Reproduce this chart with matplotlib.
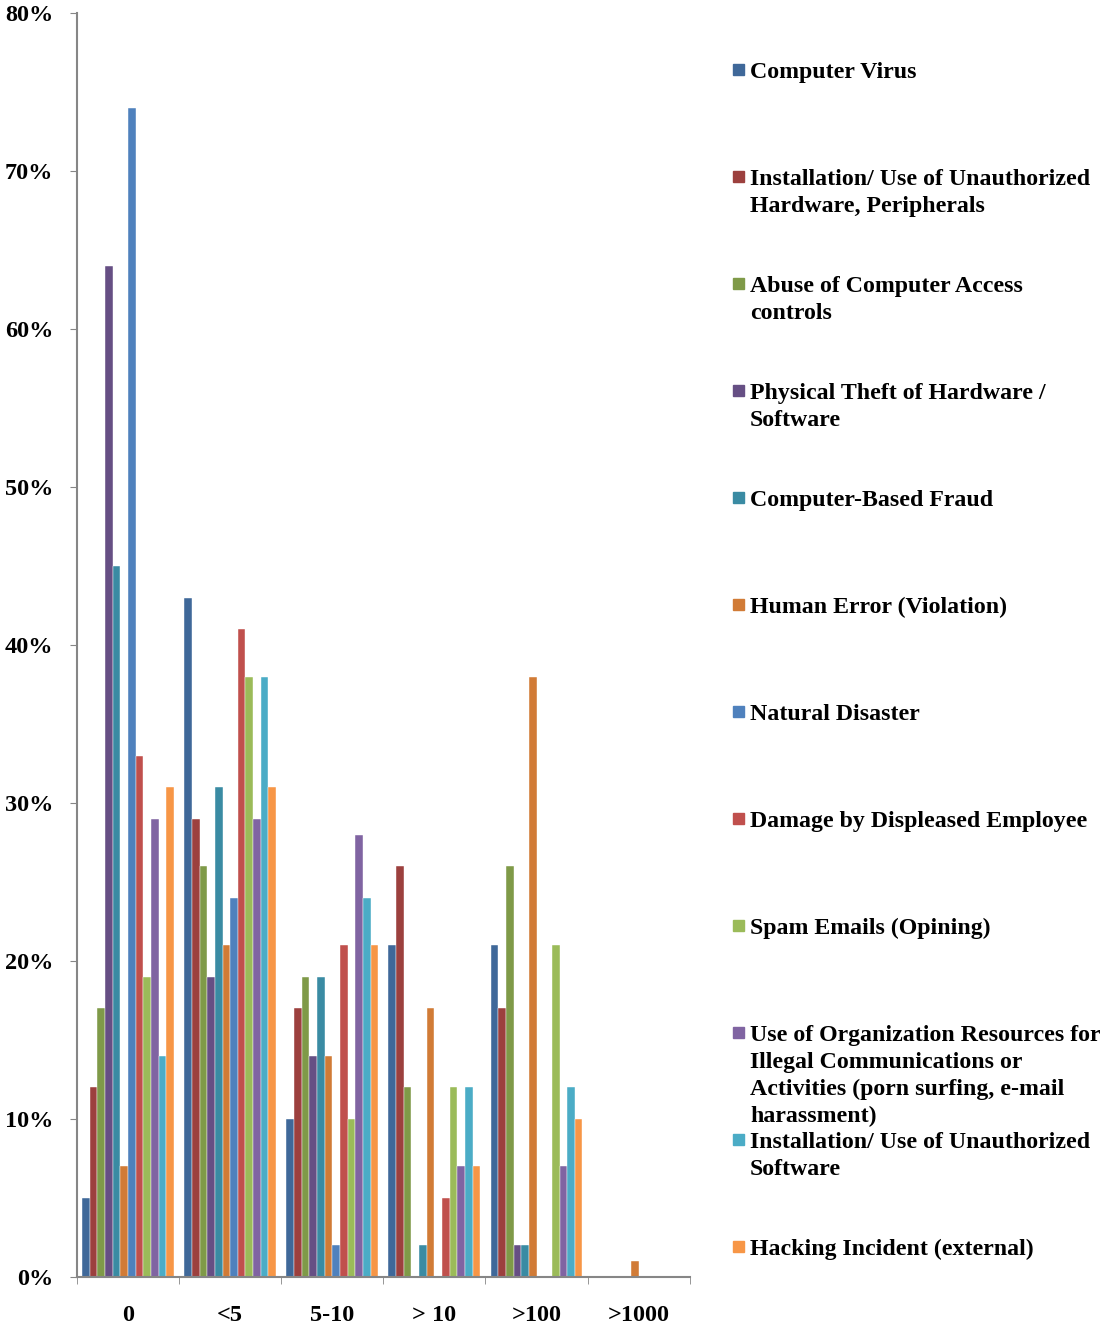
import numpy as np
import matplotlib.pyplot as plt
from matplotlib.patches import Rectangle

# loss categories (x axis)
categories = ['0', '<5', '5-10', '> 10', '>100', '>1000']

# incident types and their share (%) in each loss category
series = [
    'Computer Virus',
    'Installation/ Use of Unauthorized\nHardware, Peripherals',
    'Abuse of Computer Access\ncontrols',
    'Physical Theft of Hardware /\nSoftware',
    'Computer-Based Fraud',
    'Human Error (Violation)',
    'Natural Disaster',
    'Damage by Displeased Employee',
    'Spam Emails (Opining)',
    'Use of Organization Resources for\nIllegal Communications or\nActivities (porn surfing, e-mail\nharassment)',
    'Installation/ Use of Unauthorized\nSoftware',
    'Hacking Incident (external)',
]
computer_virus = [5, 43, 10, 21, 21, 0]
unauth_hardware = [12, 29, 17, 26, 17, 0]
access_abuse = [17, 26, 19, 12, 26, 0]
physical_theft = [64, 19, 14, 0, 2, 0]
fraud = [45, 31, 19, 2, 2, 0]
human_error = [7, 21, 14, 17, 38, 1]
natural_disaster = [74, 24, 2, 0, 0, 0]
employee_damage = [33, 41, 21, 5, 0, 0]
spam = [19, 38, 10, 12, 21, 0]
illegal_use = [29, 29, 28, 7, 7, 0]
unauth_software = [14, 38, 24, 12, 12, 0]
hacking = [31, 31, 21, 7, 10, 0]

values = [computer_virus, unauth_hardware, access_abuse, physical_theft, fraud,
          human_error, natural_disaster, employee_damage, spam, illegal_use,
          unauth_software, hacking]

colors = ['#3F6899', '#9C403E', '#7F9A48', '#664F84', '#3A8BA3', '#D17B36',
          '#4F81BD', '#C0504D', '#9BBB59', '#8064A2', '#4BACC6', '#F79646']

plt.rcParams['font.family'] = 'Liberation Serif'
plt.rcParams['font.weight'] = 'bold'

fig = plt.figure(figsize=(11, 13.28), dpi=100)
ax = fig.add_axes([0.07, 0.0384, 0.557, 0.9518])

x = np.arange(len(categories))
n = len(values)
w = 0.9 / n
for i, (v, c) in enumerate(zip(values, colors)):
    ax.bar(x - 0.45 + w * (i + 0.5), np.array(v) / 100, width=w, color=c,
           edgecolor='white', linewidth=0.3)

ax.set_xlim(-0.5, len(categories) - 0.5)
ax.set_ylim(0, 0.8)
ax.set_yticks(np.arange(0, 0.81, 0.1))
ax.set_yticklabels([f'{int(round(t * 100))}%' for t in np.arange(0, 0.81, 0.1)],
                   fontsize=17.5, fontweight='bold')
ax.set_xticks(x)
ax.set_xticklabels(categories, fontsize=17.5, fontweight='bold')
ax.set_xticks(np.arange(-0.5, len(categories)), minor=True)
ax.tick_params(axis='x', which='major', length=0, pad=20)
ax.tick_params(axis='x', which='minor', length=5, color='#868686')
ax.tick_params(axis='y', length=5, color='#868686', pad=12)

for s in ['top', 'right']:
    ax.spines[s].set_visible(False)
for s in ['left', 'bottom']:
    ax.spines[s].set_color('#868686')
    ax.spines[s].set_linewidth(1.5)

# legend drawn by hand, one entry every 107 px
W, H = 1100, 1328
for i, (name, c) in enumerate(zip(series, colors)):
    ytop = 70 + 107 * i
    fig.patches.append(Rectangle((733 / W, 1 - (ytop + 5) / H), 11 / W, 11 / H,
                                 transform=fig.transFigure, color=c))
    fig.text(750 / W, 1 - (ytop - 8) / H, name, fontsize=17.2,
             fontweight='bold', va='top', ha='left', linespacing=1.36)

fig.savefig('out.png', dpi=100)
